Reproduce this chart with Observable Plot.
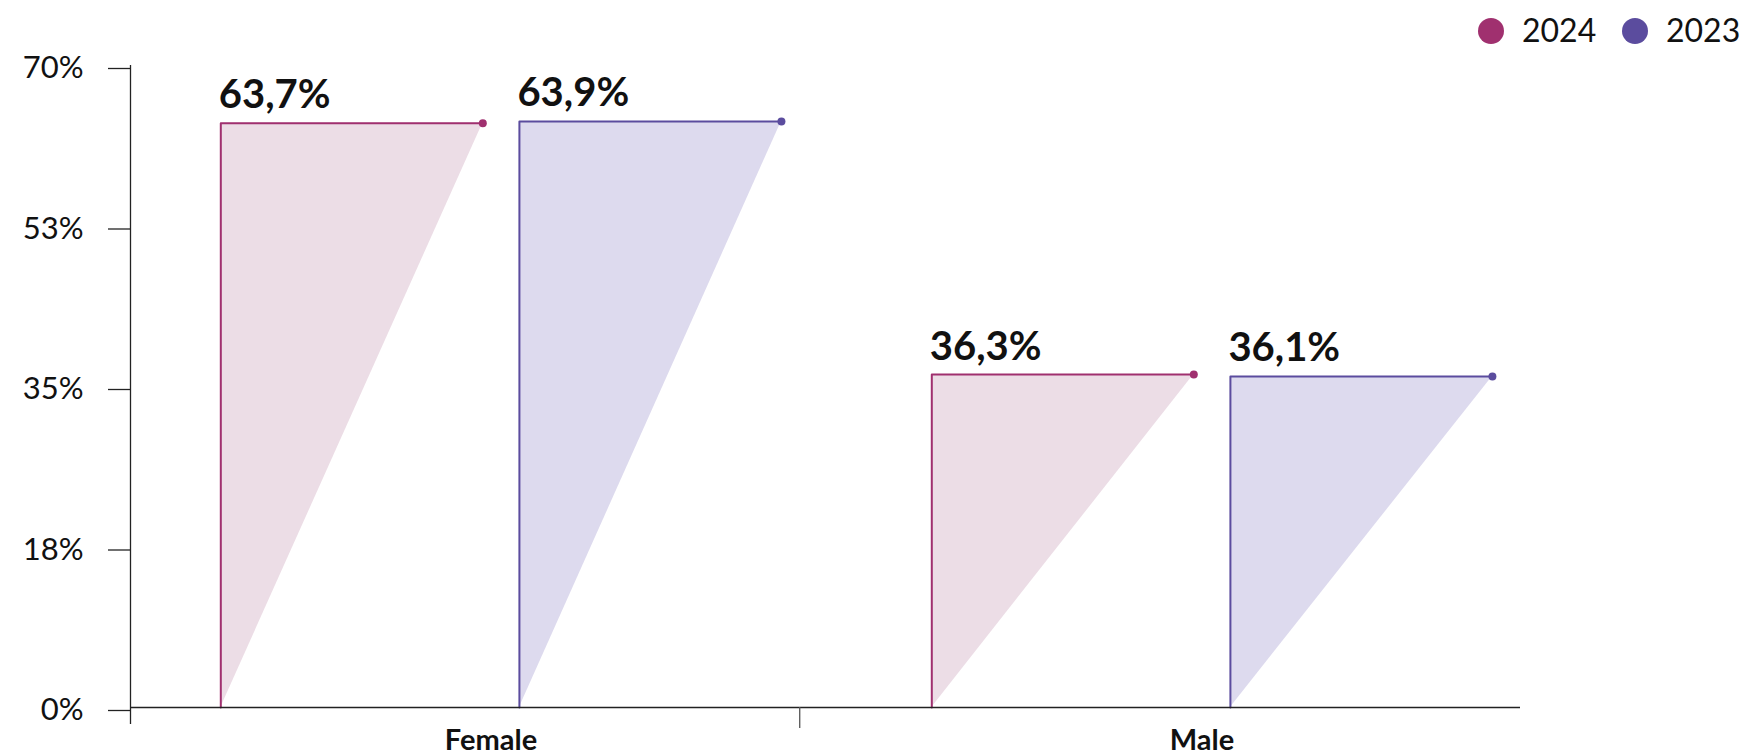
<!DOCTYPE html>
<html>
<head>
<meta charset="utf-8">
<script src="https://cdn.jsdelivr.net/npm/d3@7"></script>
<script src="https://cdn.jsdelivr.net/npm/@observablehq/plot@0.6"></script>
<style>
  body { margin: 0; background: #fff; font-family: Lato, sans-serif; }
  #legend { position: relative; height: 36px; width: 1755px; z-index: 1; }
  .lg-dot { position: absolute; width: 26px; height: 26px; border-radius: 50%; top: 18px; }
  .lg-txt { position: absolute; top: 12px; font-size: 32px; color: #111; font-family: Lato, sans-serif; line-height: 36px; }
  #chart svg { overflow: visible; }
</style>
</head>
<body>
<div id="legend"></div>
<div id="chart"></div>
<script>
const genders = ["Female", "Male"];
const years = ["2024", "2023"];
const values2024 = [63.7, 36.3];
const values2023 = [63.9, 36.1];
const yTicks = [0, 17.5, 35, 52.5, 70];

const strokeColors = {"2024": "#a0306f", "2023": "#5b4c9e"};
const fillColors = {"2024": "#ecdde6", "2023": "#dddaee"};

// layout constants (in x units: one unit = one gender group)
const BAR_STEP = 0.42, BAR_W = 0.3685, LABEL_OFF = 0.38;
const XMIN = -0.127, XMAX = 1.828;

const series = {"2024": values2024, "2023": values2023};
const bars = [];
genders.forEach((g, gi) => {
  years.forEach((yr, yi) => {
    const x0 = gi + yi * BAR_STEP;
    bars.push({gender: g, year: yr, value: series[yr][gi], x0, x1: x0 + BAR_W, key: g + yr});
  });
});
const linePts = bars.flatMap(b => [
  {key: b.key, year: b.year, x: b.x0, y: 0},
  {key: b.key, year: b.year, x: b.x0, y: b.value},
  {key: b.key, year: b.year, x: b.x1, y: b.value}
]);
const areaPts = bars.flatMap(b => [
  {key: b.key, year: b.year, x: b.x0, y1: 0, y2: b.value},
  {key: b.key, year: b.year, x: b.x1, y1: b.value, y2: b.value}
]);
const fmtPct = v => v.toFixed(1).replace(".", ",") + "%";

// legend
const legend = document.getElementById("legend");
const legendPos = [1478, 1622];
years.forEach((yr, i) => {
  const d = document.createElement("div");
  d.className = "lg-dot";
  d.style.left = legendPos[i] + "px";
  d.style.background = strokeColors[yr];
  legend.appendChild(d);
  const t = document.createElement("div");
  t.className = "lg-txt";
  t.style.left = (legendPos[i] + 44) + "px";
  t.textContent = yr;
  legend.appendChild(t);
});

const chart = Plot.plot({
  width: 1755,
  height: 719,
  marginLeft: 130,
  marginRight: 235,
  marginTop: 29,
  marginBottom: 48,
  style: {fontFamily: "Lato, sans-serif", background: "transparent", color: "#111", overflow: "visible"},
  x: {domain: [XMIN, XMAX], axis: null},
  y: {domain: [0, 70], axis: null},
  marks: [
    Plot.areaY(areaPts, {x: "x", y1: "y1", y2: "y2", z: "key", fill: d => fillColors[d.year], curve: "linear"}),
    Plot.line(linePts, {x: "x", y: "y", z: "key", stroke: d => strokeColors[d.year], strokeWidth: 2, curve: "linear"}),
    Plot.dot(bars, {x: "x1", y: "value", r: 4, fill: d => strokeColors[d.year], stroke: "none"}),
    Plot.text(bars, {x: "x0", y: "value", text: d => fmtPct(d.value), textAnchor: "start", lineAnchor: "bottom", dy: -15, dx: -2, fontSize: 40, fontWeight: "bold", fill: "#111"}),
    Plot.axisY({ticks: yTicks, tickSize: 22, tickPadding: 25, tickFormat: d => Math.round(d) + "%", fontSize: 31, dy: 3, stroke: "#222", strokeWidth: 1.3}),
    Plot.ruleX([XMIN], {y1: 0, y2: 70, stroke: "#222", strokeWidth: 1.3}),
    Plot.ruleY([0], {x1: XMIN, x2: XMAX, stroke: "#222", strokeWidth: 1.3}),
    Plot.axisX({ticks: [XMIN], tickSize: 17, tickFormat: () => "", stroke: "#222", strokeWidth: 1.3}),
    Plot.axisX({ticks: [(1 + BAR_STEP + BAR_W) / 2 - 0.08], tickSize: 21, tickFormat: () => "", stroke: "#555", strokeWidth: 1.3}),
    Plot.text(genders, {x: (d, i) => i + LABEL_OFF, frameAnchor: "bottom", dy: 42, text: d => d, fontSize: 29, fontWeight: "bold", fill: "#111"})
  ]
});
document.getElementById("chart").appendChild(chart);
</script>
</body>
</html>
